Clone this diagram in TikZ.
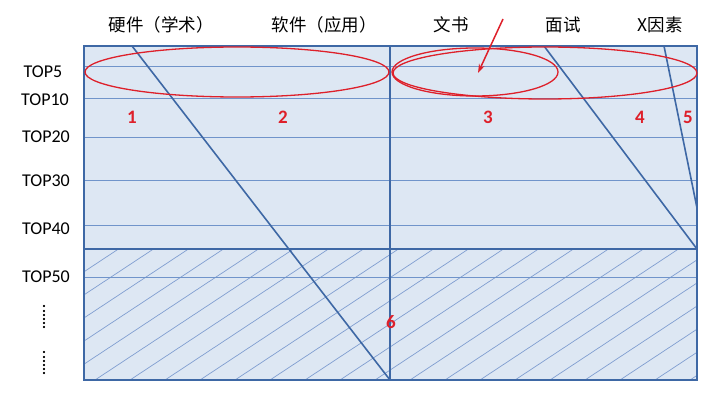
\documentclass[tikz,border=0pt]{standalone}
\usepackage{fontspec}
\setmainfont{Carlito}
\newfontfamily\cjk{Noto Sans CJK SC}
\usepackage{tikz}
\usetikzlibrary{arrows.meta}
\definecolor{boxfill}{RGB}{221,231,243}
\definecolor{boxline}{RGB}{62,104,165}
\definecolor{gridline}{RGB}{112,148,202}
\definecolor{hatchline}{RGB}{128,158,208}
\definecolor{markred}{RGB}{222,32,42}
\tikzset{
  rowlabel/.style={font=\fontsize{18}{18}\selectfont},
  collabel/.style={font=\cjk\fontsize{17.5}{18}\selectfont},
  num/.style={font=\bfseries\fontsize{19}{19}\selectfont, text=markred},
  ring/.style={draw=markred, line width=1.3pt},
  vdots/.style={font=\bfseries\fontsize{15}{15}\selectfont, rotate=90, inner sep=0pt},
}

\begin{document}
\begin{tikzpicture}[x=1pt,y=-1pt]
\useasboundingbox (0,0) rectangle (720,404);
\fill[boxfill] (84,46) rectangle (697,380);
% hatching below the thick line
\begin{scope}
  \clip (84,249) rectangle (697,380);
  \foreach \i in {0,...,26}
    \draw[hatchline, line width=0.7pt] ({-150+35*\i},380) -- ++(400,-264);
\end{scope}
\foreach \y in {66,98,137,180,225,277}
  \draw[gridline, line width=0.9pt] (84,\y) -- (697,\y);
\draw[boxline, line width=2pt] (84,249) -- (697,249);
\draw[boxline, line width=1.6pt] (390,46) -- (390,380);
\draw[boxline, line width=1.6pt] (132,46) -- (390,380);
\draw[boxline, line width=1.6pt] (544,46) -- (697,249);
\draw[boxline, line width=1.6pt] (664,46) -- (697,208);
\draw[boxline, line width=2.2pt] (84,46) rectangle (697,380);

% red rings and arrow
\draw[ring] (237,72) ellipse [x radius=152, y radius=25];
\draw[ring] (475,72) ellipse [x radius=83, y radius=24];
\draw[ring] (545,73) ellipse [x radius=152, y radius=26];
\coordinate (tail) at (503,19);
\coordinate (tip) at (478,73);
\draw[markred, line width=1.5pt, -{Stealth[length=9pt,width=6pt]}] (tail) -- (tip);

% column labels
\node[collabel] (hard) at (161,25) {硬件（学术）};
\node[collabel] (soft) at (324,25) {软件（应用）};
\node[collabel] (essay) at (451,25) {文书};
\node[collabel] (interview) at (563,25) {面试};
\node[collabel] (xfactor) at (660,25) {X因素};

% row labels
\node[rowlabel] (top5) at (43,72) {TOP5};
\node[rowlabel] (top10) at (45,100) {TOP10};
\node[rowlabel] (top20) at (46,137) {TOP20};
\node[rowlabel] (top30) at (46,181) {TOP30};
\node[rowlabel] (top40) at (46,229) {TOP40};
\node[rowlabel] (top50) at (46,277) {TOP50};
\node[vdots] (dotsa) at (44,317) {......};
\node[vdots] (dotsb) at (44,363) {......};

% region numbers
\node[num] (n1) at (132,117) {1};
\node[num] (n2) at (283,117) {2};
\node[num] (n3) at (488,117) {3};
\node[num] (n4) at (640,117) {4};
\node[num] (n5) at (688,117) {5};
\node[num] (n6) at (391,322) {6};
\end{tikzpicture}
\end{document}
